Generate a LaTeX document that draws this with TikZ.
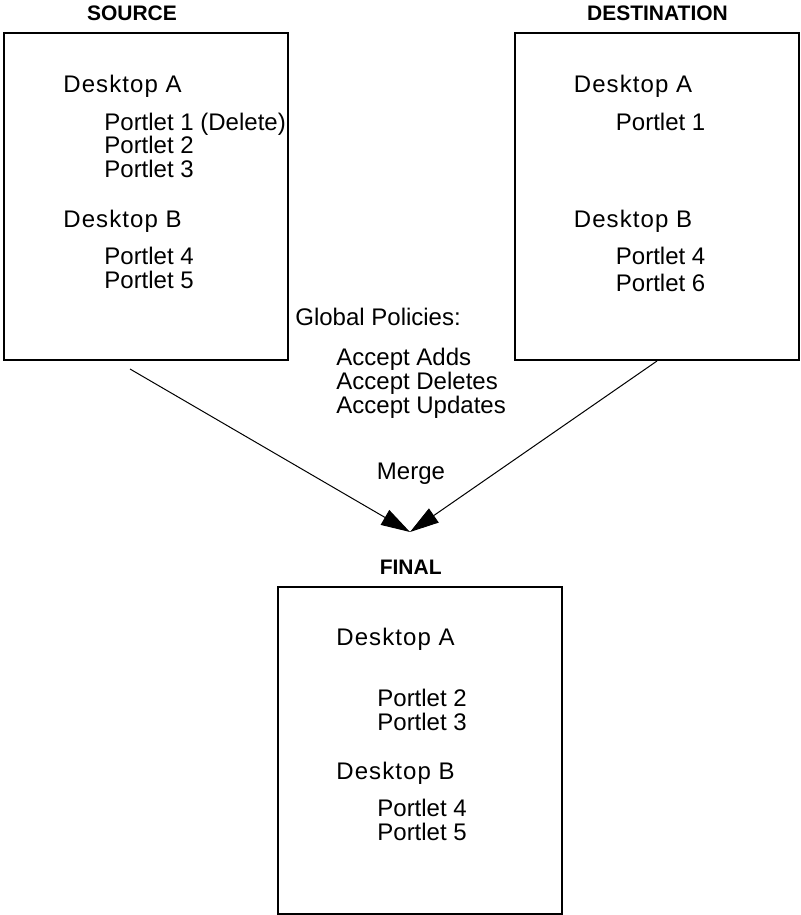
\documentclass[tikz,border=0pt]{standalone}
\usepackage{fontspec}
\setmainfont{Liberation Sans}
\usetikzlibrary{arrows.meta}

\begin{document}
\begin{tikzpicture}[x=0.5pt,y=-0.5pt,>={Triangle[length=14.5pt,width=8.5pt]},font=\fontsize{12}{14}\selectfont]

\tikzset{
store/.style={
    draw,
    line width=1pt,
    minimum width=142pt,
    minimum height=163.5pt,
    inner sep=0pt
},
title/.style={font=\fontsize{10.5}{12}\selectfont\bfseries,inner sep=0pt,anchor=base},
desk/.style={font=\fontsize{12}{14}\selectfont\addfontfeature{LetterSpace=4.5},inner sep=0pt,anchor=base west},
item/.style={inner sep=0pt,anchor=base west},
a/.style={->,line width=0.5pt}
}

\useasboundingbox (0,0) rectangle (800,915);

\node[title] (srctitle) at (132,21) {SOURCE};
\node[store] (src) at (146,196.5) {};
\node[desk] (srcA) at (63,92.5) {Desktop A};
\node[item] (srcP1) at (104,130.5) {Portlet 1 (Delete)};
\node[item] (srcP2) at (104,154) {Portlet 2};
\node[item] (srcP3) at (104,177.5) {Portlet 3};
\node[desk] (srcB) at (63,227) {Desktop B};
\node[item] (srcP4) at (104,264.5) {Portlet 4};
\node[item] (srcP5) at (104,288.5) {Portlet 5};

\node[title] (dsttitle) at (657.5,21) {DESTINATION};
\node[store] (dst) at (657,196.5) {};
\node[desk] (dstA) at (573.5,92.5) {Desktop A};
\node[item] (dstP1) at (615.5,130.5) {Portlet 1};
\node[desk] (dstB) at (573.5,227) {Desktop B};
\node[item] (dstP4) at (615.5,264.5) {Portlet 4};
\node[item] (dstP6) at (615.5,291.5) {Portlet 6};

\node[item] (policies) at (295,325) {Global Policies:};
\node[item] (adds) at (336,365) {Accept Adds};
\node[item] (deletes) at (336,389) {Accept Deletes};
\node[item] (updates) at (336,413.5) {Accept Updates};
\node[inner sep=0pt,anchor=base] (merge) at (411,479) {Merge};

\coordinate (srcout) at (130,369);
\coordinate (join) at (410,532);
\draw[a] (srcout) -- (join);
\draw[a] (dst.south) -- (join);

\node[title] (fintitle) at (410.7,574) {FINAL};
\node[store] (fin) at (419.5,750) {};
\node[desk] (finA) at (336,645) {Desktop A};
\node[item] (finP2) at (377,706.5) {Portlet 2};
\node[item] (finP3) at (377,730.5) {Portlet 3};
\node[desk] (finB) at (336,779.5) {Desktop B};
\node[item] (finP4) at (377,816.5) {Portlet 4};
\node[item] (finP5) at (377,840.5) {Portlet 5};

\end{tikzpicture}
\end{document}
